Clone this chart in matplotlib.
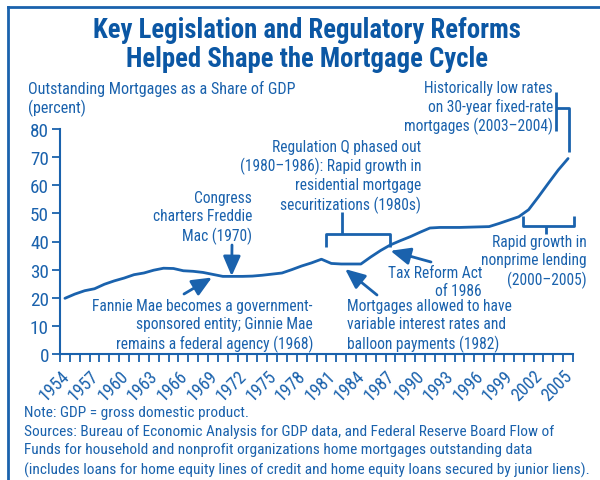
import matplotlib
matplotlib.use("Agg")
import matplotlib.pyplot as plt
from matplotlib import font_manager
from matplotlib.lines import Line2D

# pick the narrowest family we have; the original uses a condensed face
fm = font_manager.fontManager
avail = {f.name for f in fm.ttflist}
FAM, STRETCH = 'DejaVu Sans', 'normal'
for cand in ['Liberation Sans Narrow', 'Roboto Condensed', 'Open Sans Condensed']:
    if cand in avail:
        FAM = cand
        break
else:
    if any('Condensed' in f.fname and f.name == 'DejaVu Sans' for f in fm.ttflist):
        STRETCH = 'condensed'
plt.rcParams['font.family'] = [FAM, 'DejaVu Sans']
plt.rcParams['font.stretch'] = STRETCH

BLUE = '#1a62ad'
TITLE_BLUE = '#0b57a4'

years = list(range(1954, 2006))
share = [19.8, 21.3, 22.5, 23.2, 24.8, 26.0, 27.0, 28.2, 28.8, 29.8, 30.5, 30.4,
         29.6, 29.4, 29.0, 28.3, 27.6, 27.6, 27.6, 27.7, 28.0, 28.4,
         28.8, 30.0, 31.3, 32.4, 33.7, 32.2, 32.0, 32.0, 32.0, 34.5,
         36.8, 38.8, 40.3, 41.7, 43.3, 44.8, 45.0, 45.0, 45.0, 45.1,
         45.2, 45.3, 46.4, 47.6, 48.8, 51.3, 55.9, 60.7, 65.4, 69.5]
year_ticks = list(range(1954, 2007))
year_labels = [str(y) if (y - 1954) % 3 == 0 and y < 2006 else '' for y in year_ticks]
y_ticks = list(range(0, 81, 10))

title = "Key Legislation and Regulatory Reforms\nHelped Shape the Mortgage Cycle"
ylabel = "Outstanding Mortgages as a Share of GDP\n(percent)"
note_lines = ["Note: GDP = gross domestic product.",
              "Sources: Bureau of Economic Analysis for GDP data, and Federal Reserve Board Flow of",
              "Funds for household and nonprofit organizations home mortgages outstanding data",
              "(includes loans for home equity lines of credit and home equity loans secured by junior liens)."]

W, H = 600, 481


def fx(px):
    return px / W


def fy(py):
    return 1 - py / H


fig = plt.figure(figsize=(6, 4.81), dpi=100)
renderer = fig.canvas.get_renderer()


def fit_size(s, target, **kw):
    t = fig.text(0, 0, s, fontsize=10, **kw)
    w = t.get_window_extent(renderer).width
    t.remove()
    return 10 * target / w


title_fs = min(21, fit_size(title.split('\n')[0], 429, fontweight='bold'))
ylabel_fs = min(13, fit_size(ylabel.split('\n')[0], 268))
note_fs = min(12, fit_size(note_lines[-1], 564))
ann_fs = min(12, fit_size("Mortgages allowed to have", 165))
k = ann_fs / 11.0
tick_fs = 13.5 * max(k, 0.85)

ax = fig.add_axes([fx(60), fy(355), fx(573) - fx(60), fy(130) - fy(355)])

ax.plot([y + 0.5 for y in years], share, color=BLUE, lw=2.0, solid_capstyle='round')

ax.set_xlim(1954, 2006)
ax.set_ylim(0, 80)
ax.set_xticks(year_ticks)
ax.set_xticklabels(year_labels, rotation=45, ha='right', rotation_mode='anchor')
ax.set_yticks(y_ticks)
for s in ['top', 'right']:
    ax.spines[s].set_visible(False)
for s in ['left', 'bottom']:
    ax.spines[s].set_color(BLUE)
    ax.spines[s].set_linewidth(1.5)
ax.tick_params(axis='x', colors=BLUE, length=6, width=1.3, labelsize=tick_fs * 0.93, pad=3)
ax.tick_params(axis='y', colors=BLUE, length=6, width=1.3, labelsize=tick_fs, pad=2)
ax.patch.set_visible(False)

# frame lines
fig.add_artist(Line2D([fx(8), 1], [fy(8), fy(8)], color=BLUE, lw=2))
fig.add_artist(Line2D([fx(8), fx(8)], [fy(8), 0], color=BLUE, lw=2))

fig.text(fx(307), fy(45), title, ha='center', va='center', fontsize=title_fs,
         fontweight='bold', color=TITLE_BLUE, linespacing=1.13)
fig.text(fx(28), fy(99), ylabel, ha='left', va='center', fontsize=ylabel_fs,
         color=BLUE, linespacing=1.18)
fig.text(fx(24), fy(442), '\n'.join(note_lines), ha='left', va='center', fontsize=note_fs,
         color=BLUE, linespacing=1.42)

txt = dict(fontsize=ann_fs, color=BLUE, linespacing=1.25, va='center')
arrow = dict(arrowstyle='-|>,head_length=0.8,head_width=0.35', color=BLUE,
             lw=2, shrinkA=0, shrinkB=0, mutation_scale=15)

# Freddie Mac
fig.text(fx(252), fy(218), "Congress\ncharters Freddie\nMac (1970)", ha='right', **txt)
ax.annotate('', xy=(1971.4, 27.7), xytext=(fx(232), fy(246)),
            textcoords='figure fraction', arrowprops=arrow)

# Fannie Mae
fig.text(fx(313), fy(326), "Fannie Mae becomes a government-\nsponsored entity; Ginnie Mae\n"
         "remains a federal agency (1968)", ha='right', **txt)
ax.annotate('', xy=(1969.4, 27.2), xytext=(fx(184), fy(295)),
            textcoords='figure fraction', arrowprops=arrow)

# Regulation Q
fig.text(fx(421), fy(177), "Regulation Q phased out\n(1980\u20131986): Rapid growth in\n"
         "residential mortgage\nsecuritizations (1980s)", ha='right', **txt)
brk = dict(color=BLUE, lw=2, clip_on=False, solid_capstyle='butt')
ax.plot([1981.0, 1981.0, 1987.5, 1987.5], [38.0, 42.7, 42.7, 38.0], **brk)
ax.plot([1982.6, 1982.6], [42.7, 50.5], **brk)

# Tax Reform
fig.text(fx(482), fy(282), "Tax Reform Act\nof 1986", ha='right', **txt)
ax.annotate('', xy=(1987.5, 36.7), xytext=(fx(431), fy(263)),
            textcoords='figure fraction', arrowprops=arrow)

# Mortgages allowed
fig.text(fx(347), fy(326), "Mortgages allowed to have\nvariable interest rates and\n"
         "balloon payments (1982)", ha='left', **txt)
ax.annotate('', xy=(1982.9, 30.2), xytext=(fx(377), fy(296)),
            textcoords='figure fraction', arrowprops=arrow)

# Historically low rates
fig.text(fx(553), fy(108), "Historically low rates\non 30-year fixed-rate\n"
         "mortgages (2003\u20132004)", ha='right', **txt)
ax.plot([2004.25, 2004.25], [79.4, 93.2], **brk)
ax.plot([2004.25, 2005.6, 2005.6], [87.5, 87.5, 71.8], **brk)

# Nonprime lending
fig.text(fx(587), fy(262), "Rapid growth in\nnonprime lending\n(2000\u20132005)", ha='right', **txt)
ax.plot([2000.9, 2000.9, 2006.1, 2006.1], [49.0, 45.6, 45.6, 49.0], **brk)
ax.plot([2003.3, 2003.3], [45.6, 42.7], **brk)

fig.savefig('out.png', dpi=100)
